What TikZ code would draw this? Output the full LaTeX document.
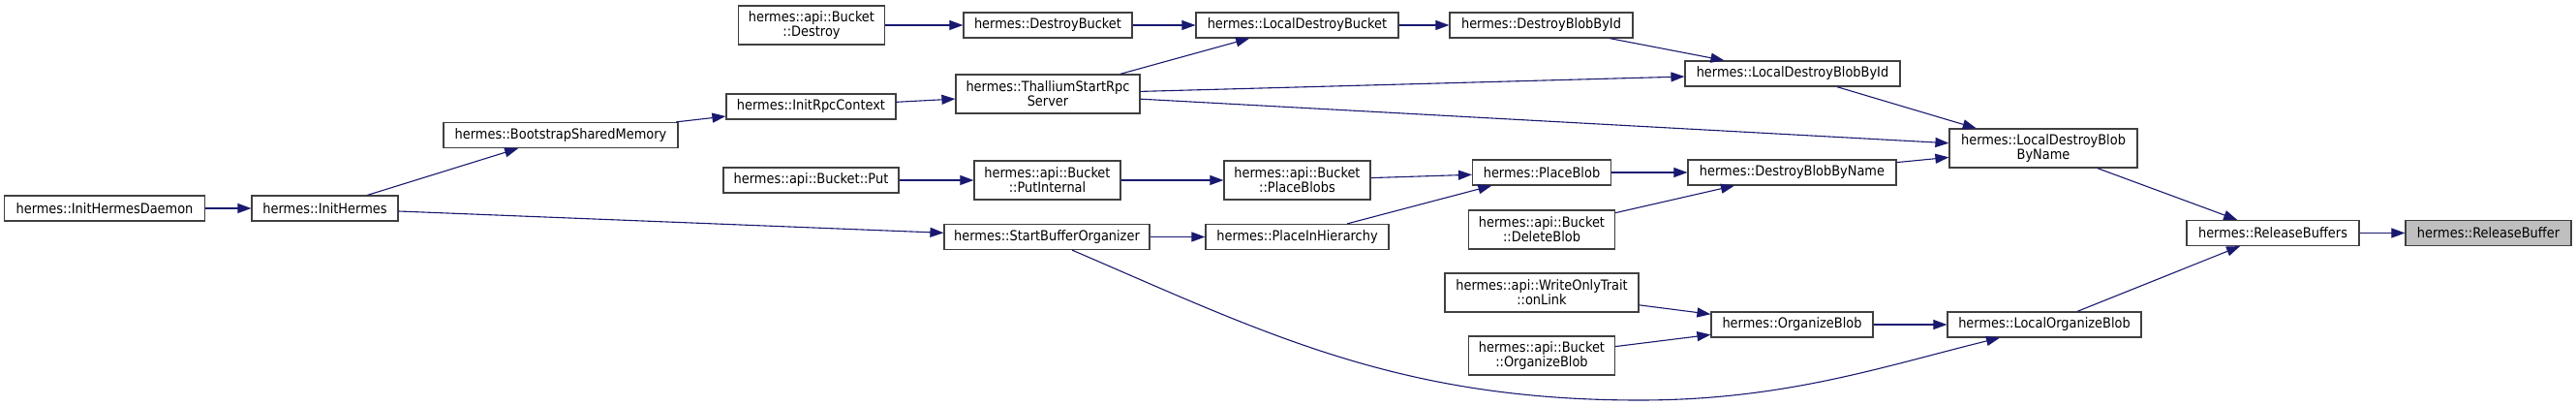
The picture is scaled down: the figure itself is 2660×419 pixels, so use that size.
\documentclass[tikz,border=0pt]{standalone}
\usepackage{fontspec}
\IfFontExistsTF{DejaVu Sans Condensed}{\setmainfont{DejaVu Sans Condensed}}{\setmainfont{DejaVu Sans}[FakeStretch=0.9]}
\usetikzlibrary{arrows.meta}
\definecolor{edgeblue}{HTML}{191970}
\definecolor{nodegray}{HTML}{BFBFBF}

\begin{document}
\begin{tikzpicture}[
    x=1pt, y=-1pt,
    func/.style={draw=black!75, line width=1.2pt, fill=white, align=center, inner sep=0pt, minimum height=26pt, font=\fontsize{14.4}{15}\selectfont},
    twoline/.style={func, minimum height=40pt},
    current/.style={func, fill=nodegray},
    call/.style={-{Triangle[length=14pt, width=10pt]}, draw=edgeblue, line width=1.1pt}
]
\useasboundingbox (0,0) rectangle (2660,419);

\node[func, minimum width=207pt] (init-hermes-daemon) at (108,215) {hermes::InitHermesDaemon};
\node[func, minimum width=151pt] (init-hermes) at (335.5,215) {hermes::InitHermes};
\node[func, minimum width=242pt] (bootstrap-shm) at (579,139.5) {hermes::BootstrapSharedMemory};

\node[twoline, minimum width=151pt] (bucket-destroy) at (838,26) {hermes::api::Bucket\\::Destroy};
\node[func, minimum width=175pt] (init-rpc-context) at (837.5,110) {hermes::InitRpcContext};
\node[func, minimum width=181pt] (bucket-put) at (837.5,186) {hermes::api::Bucket::Put};

\node[func, minimum width=174pt] (destroy-bucket) at (1082,26) {hermes::DestroyBucket};
\node[twoline, minimum width=190pt] (thallium-rpc-server) at (1082,97) {hermes::ThalliumStartRpc\\Server};
\node[twoline, minimum width=151pt] (bucket-put-internal) at (1081.5,186) {hermes::api::Bucket\\::PutInternal};
\node[func, minimum width=212pt] (start-buffer-organizer) at (1081,244.5) {hermes::StartBufferOrganizer};

\node[func, minimum width=209pt] (local-destroy-bucket) at (1339.5,26) {hermes::LocalDestroyBucket};
\node[twoline, minimum width=151pt] (bucket-place-blobs) at (1339.5,186) {hermes::api::Bucket\\::PlaceBlobs};
\node[func, minimum width=189pt] (place-in-hierarchy) at (1339.5,244.5) {hermes::PlaceInHierarchy};

\node[func, minimum width=189pt] (destroy-blob-by-id) at (1591.5,26) {hermes::DestroyBlobById};
\node[func, minimum width=143pt] (place-blob) at (1592,178) {hermes::PlaceBlob};
\node[twoline, minimum width=151pt] (bucket-delete-blob) at (1592,237) {hermes::api::Bucket\\::DeleteBlob};
\node[twoline, minimum width=200pt] (write-only-on-link) at (1592,302) {hermes::api::WriteOnlyTrait\\::onLink};
\node[twoline, minimum width=151pt] (bucket-organize-blob) at (1592,367) {hermes::api::Bucket\\::OrganizeBlob};

\node[func, minimum width=222pt] (local-destroy-blob-by-id) at (1851,76) {hermes::LocalDestroyBlobById};
\node[func, minimum width=215pt] (destroy-blob-by-name) at (1850.5,178) {hermes::DestroyBlobByName};
\node[func, minimum width=167pt] (organize-blob) at (1850.5,335) {hermes::OrganizeBlob};

\node[twoline, minimum width=194pt] (local-destroy-blob-by-name) at (2110,153) {hermes::LocalDestroyBlob\\ByName};
\node[func, minimum width=200pt] (local-organize-blob) at (2111,335) {hermes::LocalOrganizeBlob};
\node[func, minimum width=178pt] (release-buffers) at (2347,240.5) {hermes::ReleaseBuffers};
\node[current, minimum width=171pt] (release-buffer) at (2569.5,240.5) {hermes::ReleaseBuffer};

\draw[call] (init-hermes-daemon) -- (init-hermes);
\draw[call] (init-hermes) -- (bootstrap-shm);
\draw[call] (init-hermes) -- (start-buffer-organizer);
\draw[call] (bootstrap-shm) -- (init-rpc-context);
\draw[call] (init-rpc-context) -- (thallium-rpc-server);
\draw[call] (bucket-destroy) -- (destroy-bucket);
\draw[call] (destroy-bucket) -- (local-destroy-bucket);
\draw[call] (thallium-rpc-server) -- (local-destroy-bucket);
\draw[call] (thallium-rpc-server) -- (local-destroy-blob-by-id);
\draw[call] (thallium-rpc-server) -- (local-destroy-blob-by-name);
\draw[call] (local-destroy-bucket) -- (destroy-blob-by-id);
\draw[call] (destroy-blob-by-id) -- (local-destroy-blob-by-id);
\draw[call] (local-destroy-blob-by-id) -- (local-destroy-blob-by-name);
\draw[call] (bucket-put) -- (bucket-put-internal);
\draw[call] (bucket-put-internal) -- (bucket-place-blobs);
\draw[call] (bucket-place-blobs) -- (place-blob);
\draw[call] (place-in-hierarchy) -- (place-blob);
\draw[call] (start-buffer-organizer) -- (place-in-hierarchy);
\draw[call] (place-blob) -- (destroy-blob-by-name);
\draw[call] (bucket-delete-blob) -- (destroy-blob-by-name);
\draw[call] (destroy-blob-by-name) -- (local-destroy-blob-by-name);
\draw[call] (local-destroy-blob-by-name) -- (release-buffers);
\draw[call] (write-only-on-link) -- (organize-blob);
\draw[call] (bucket-organize-blob) -- (organize-blob);
\draw[call] (organize-blob) -- (local-organize-blob);
\draw[call] (local-organize-blob) -- (release-buffers);
\draw[call] (release-buffers) -- (release-buffer);
\draw[call] ([xshift=26pt]start-buffer-organizer.south) .. controls (1307,344) and (1443,413) .. (1693,413)
    .. controls (1843,413) and (1945,378) .. ([xshift=-46pt]local-organize-blob.south);
\end{tikzpicture}
\end{document}
